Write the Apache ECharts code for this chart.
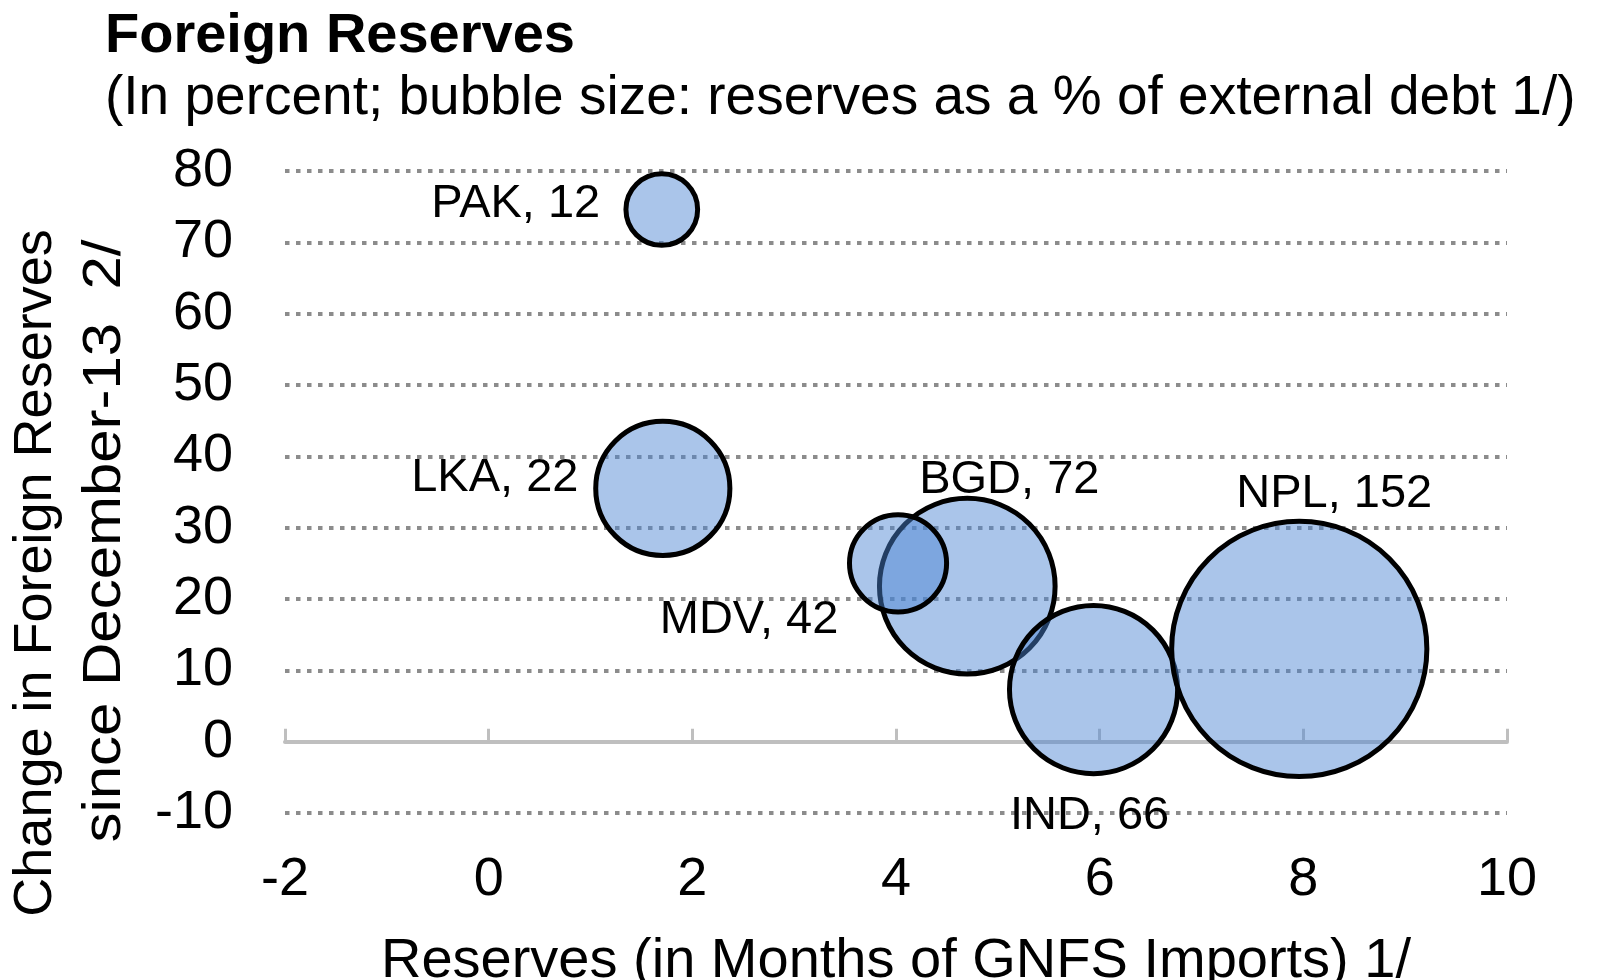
<!DOCTYPE html>
<html>
<head>
<meta charset="utf-8">
<title>Foreign Reserves</title>
<script src="https://cdn.jsdelivr.net/npm/echarts@6/dist/echarts.min.js"></script>
<style>
    html, body { margin: 0; padding: 0; background: #fff; }
    #main { width: 1600px; height: 980px; }
</style>
</head>
<body>
<div id="main"></div>
<script>
// 国家代码
var countries = ['PAK', 'LKA', 'BGD', 'MDV', 'IND', 'NPL'];
// x: reserves in months of GNFS imports
var reserveMonths = [1.70, 1.71, 4.70, 4.02, 5.94, 7.96];
// y: change in reserves since Dec-13 (%)
var reserveChange = [74.6, 35.5, 21.8, 25.0, 7.3, 13.0];
// bubble size as drawn
var bubbleSize = [12, 42, 72, 22, 66, 152];
// number printed in the labels
var labelValue = [12, 22, 72, 42, 66, 152];

var xTicks = { min: -2, max: 10, interval: 2 };
var yTicks = { min: -10, max: 80, interval: 10 };

var fontFamily = '"Liberation Sans", Arial, sans-serif';

// where each label sits relative to bubble centre (px)
var labelOffset = {
    PAK: [-146, -5],
    LKA: [-168, -10],
    MDV: [-149, 57],
    BGD: [42, -106],
    IND: [-4, 126],
    NPL: [35, -155]
};

var seriesData = [];
for (var i = 0; i < countries.length; i++) {
    seriesData.push({
        name: countries[i],
        value: [reserveMonths[i], reserveChange[i], bubbleSize[i]],
        label: {
            offset: labelOffset[countries[i]]
        }
    });
}

var myChart = echarts.init(document.getElementById('main'));

// y轴标题 (两行, 竖排)
function yTitleLine(text, x, y, size, stretch) {
    return {
        type: 'text',
        x: x,
        y: y,
        rotation: Math.PI / 2,
        scaleX: stretch,
        style: {
            text: text,
            font: size + 'px ' + fontFamily,
            fill: '#000',
            align: 'center',
            verticalAlign: 'middle',
            textAlign: 'center',
            textVerticalAlign: 'middle'
        }
    };
}

var option = {
    backgroundColor: '#fff',
    animation: false,
    title: [
        {
            text: 'Foreign Reserves',
            left: 105,
            top: 9,
            padding: 0,
            textStyle: { fontFamily: fontFamily, fontSize: 56, fontWeight: 'bold', color: '#000' }
        },
        {
            text: '(In percent; bubble size: reserves as a % of external debt 1/)',
            left: 105,
            top: 71,
            padding: 0,
            textStyle: { fontFamily: fontFamily, fontSize: 55, fontWeight: 'normal', color: '#000' }
        }
    ],
    grid: {
        left: 285,
        right: 93,
        top: 171,
        bottom: 167,
        outerBoundsMode: 'none'
    },
    xAxis: {
        type: 'value',
        min: xTicks.min,
        max: xTicks.max,
        interval: xTicks.interval,
        name: 'Reserves (in Months of GNFS Imports) 1/',
        nameLocation: 'middle',
        nameGap: 121,
        nameTextStyle: { fontFamily: fontFamily, fontSize: 56, color: '#000' },
        axisLine: {
            onZero: true,
            lineStyle: { color: '#bfbfbf', width: 4 }
        },
        axisTick: {
            inside: true,
            length: 13,
            lineStyle: { color: '#bfbfbf', width: 3 }
        },
        axisLabel: {
            margin: 40,
            fontFamily: fontFamily,
            fontSize: 54,
            color: '#000'
        },
        splitLine: { show: false }
    },
    yAxis: {
        type: 'value',
        min: yTicks.min,
        max: yTicks.max,
        interval: yTicks.interval,
        axisLine: { show: false },
        axisTick: { show: false },
        axisLabel: {
            margin: 52,
            fontFamily: fontFamily,
            fontSize: 54,
            color: '#000'
        },
        splitLine: {
            show: true,
            lineStyle: { color: '#8c8c8c', width: 4, type: [4.5, 6.5] }
        }
    },
    graphic: [
        yTitleLine('Change in Foreign Reserves', 36, 573, 54, 1),
        yTitleLine('since December-13  2/', 105, 541, 54, 1.11)
    ],
    series: [
        {
            type: 'scatter',
            data: seriesData,
            symbol: 'circle',
            symbolSize: function (val) {
                // 面积和数值成正比
                return 20.7 * Math.sqrt(val[2]);
            },
            itemStyle: {
                color: 'rgba(74, 132, 210, 0.47)',
                borderColor: '#000',
                borderWidth: 5,
                opacity: 1
            },
            label: {
                show: true,
                position: 'inside',
                fontFamily: fontFamily,
                fontSize: 47,
                color: '#000',
                formatter: function (params) {
                    return params.name + ', ' + labelValue[params.dataIndex];
                }
            },
            emphasis: { disabled: true }
        }
    ]
};

myChart.setOption(option);
</script>
</body>
</html>
